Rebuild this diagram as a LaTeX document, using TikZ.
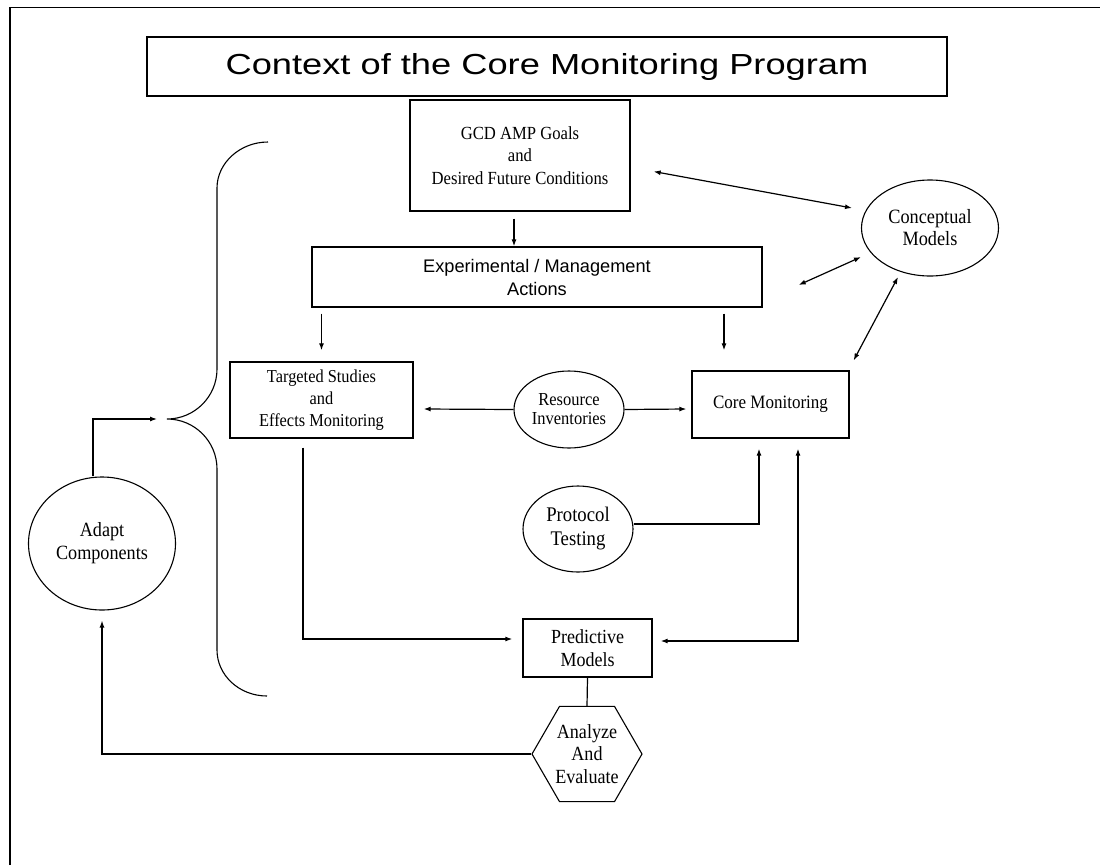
\documentclass[tikz,border=0pt]{standalone}
\usepackage{fontspec}
\setmainfont{Liberation Serif}
\newfontfamily\serf[FakeStretch=0.9]{Liberation Serif}
\newfontfamily\sanf{Liberation Sans}
\newfontfamily\titf[FakeStretch=1.25]{Liberation Sans}
\usetikzlibrary{arrows.meta,shapes.geometric,calc}
\begin{document}
\begin{tikzpicture}[x=1pt,y=-1pt,
  every node/.style={inner sep=0pt, align=center},
  boxn/.style={draw, line width=1.3pt, rectangle},
  elln/.style={draw, line width=1.1pt, ellipse},
  sf/.style 2 args={font=\serf\fontsize{#1}{#2}\selectfont},
  arr/.style={line width=1.2pt, -{Latex[length=7pt,width=5pt]}},
  dbl/.style={line width=1.2pt, {Latex[length=7pt,width=5pt]}-{Latex[length=7pt,width=5pt]}},
  ln/.style={line width=1.2pt}]
\useasboundingbox (0,0) rectangle (1100,865);
\draw[line width=1.5pt] (10,865) -- (10,7.5) -- (1100,7.5);

\node[boxn, minimum width=800pt, minimum height=59pt, font=\titf\fontsize{29}{34}\selectfont] (title) at (547,66.5) {Context of the Core Monitoring Program};
\node[boxn, minimum width=220pt, minimum height=111pt, sf={18.5}{22.5}] (gcd) at (520,155.5) {GCD AMP Goals\\and\\Desired Future Conditions};
\node[boxn, minimum width=450pt, minimum height=60pt, font=\sanf\fontsize{18.2}{23}\selectfont] (exp) at (537,277) {Experimental / Management\\Actions};
\node[boxn, minimum width=183pt, minimum height=76pt, sf={18.2}{22}] (targ) at (321.5,400) {Targeted Studies\\and\\Effects Monitoring};
\node[boxn, minimum width=157pt, minimum height=67pt, sf={18.9}{22}] (core) at (770.5,404.5) {Core Monitoring};
\node[elln, minimum width=110pt, minimum height=77pt, sf={18.3}{19}] (res) at (569,409.5) {Resource\\Inventories};
\node[elln, minimum width=137pt, minimum height=96pt, sf={20.3}{22}] (concept) at (930,228) {Conceptual\\Models};
\node[elln, minimum width=110pt, minimum height=86pt, sf={20.8}{24}] (proto) at (578,529) {Protocol\\Testing};
\node[boxn, minimum width=129pt, minimum height=58pt, sf={20}{23}] (pred) at (587.5,648) {Predictive\\Models};
\node[draw, line width=1.1pt, regular polygon, regular polygon sides=6, minimum size=110pt, sf={20.1}{22.5}] (hex) at (587,754) {Analyze\\And\\Evaluate};
\node[elln, minimum width=147pt, minimum height=133pt, sf={20.2}{23}] (adapt) at (102,543.5) {Adapt\\Components};

\coordinate (btip) at (167,419);
\draw[line width=1.1pt] (268,142) .. controls (240,142) and (217,163) .. (217,188) -- (217,369) .. controls (217,396.6) and (194.6,419) .. (btip) .. controls (194.6,419) and (217,441.4) .. (217,469) -- (217,650) .. controls (217,675) and (239,696) .. (267,696);

\draw[arr] ([xshift=-6pt,yshift=-7pt]gcd.south) -- ([xshift=-23pt]exp.north);
\draw[dbl] ([xshift=23pt,yshift=-16pt]gcd.east) -- ([xshift=-78pt,yshift=20pt]concept.center);
\draw[dbl] ([xshift=36pt,yshift=-8pt]exp.east) -- ([xshift=-69pt,yshift=-29pt]concept.center);
\draw[dbl] ([xshift=4pt,yshift=10pt]core.north east) -- ([xshift=-32pt,yshift=-49pt]concept.center);
\draw[arr] ([xshift=-215.5pt,yshift=-6pt]exp.south) -- ([yshift=11pt]targ.north);
\draw[arr] ([xshift=187pt,yshift=-6pt]exp.south) -- ([xshift=-46.5pt,yshift=20pt]core.north);
\draw[arr] (res.west) -- ([xshift=10pt,yshift=-9pt]targ.east);
\draw[arr] (res.east) -- ([xshift=-5pt,yshift=-4.5pt]core.west);
\draw[arr] ([yshift=5pt]proto.east) -| ([xshift=-11.5pt,yshift=-10pt]core.south);
\draw[dbl] ([xshift=8pt,yshift=7pt]pred.east) -| ([xshift=27.5pt,yshift=-10pt]core.south);
\draw[arr] ([xshift=-18.5pt,yshift=-9pt]targ.south) |- ([xshift=-10pt,yshift=9pt]pred.west);
\draw[ln] (pred.south) -- (hex.north);
\draw[arr] (hex.west) -| ([yshift=-10pt]adapt.south);
\draw[arr] ([xshift=-9pt]adapt.north) |- ([xshift=-10pt]btip);
\end{tikzpicture}
\end{document}
